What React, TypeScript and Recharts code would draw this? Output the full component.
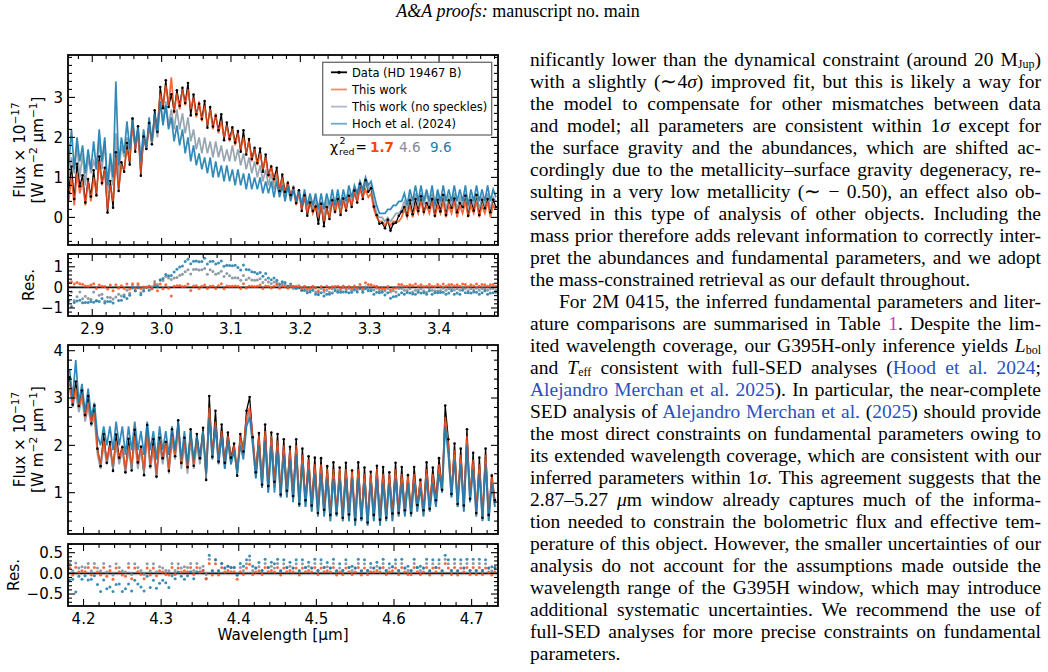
import React from 'react';
import { ComposedChart, Line, Scatter, XAxis, YAxis, ReferenceLine, ReferenceArea } from 'recharts';

// ---------- upper spectrum (2.87–3.48 µm) ----------
const TOP_START = 2.866;
const TOP_STEP = 0.004;
const TOP_DATA = [
  0.63,1.27,0.46,1.34,0.78,1.05,0.37,0.96,0.52,1.18,
  0.55,1.52,0.86,1.24,0.12,0.91,0.24,1.63,0.66,1.38,
  1.14,1.86,1.32,2.47,1.64,2.28,1.04,2.02,1.71,2.36,
  1.83,2.68,2.14,3.26,2.73,3.43,2.76,3.08,2.65,3.18,
  2.79,3.24,2.86,3.36,2.55,3.07,2.58,2.84,2.46,2.91,
  2.24,2.76,2.27,2.54,2.18,2.58,1.93,2.37,1.96,2.25,
  1.87,2.16,1.64,2.18,1.57,1.96,1.46,1.74,1.36,1.72,
  1.14,1.57,1.06,1.27,0.96,1.24,0.66,1.07,0.64,0.86,
  0.56,0.74,0.36,0.68,0.16,0.55,0.04,0.37,0.16,0.27,
  -0.16,0.34,-0.22,0.26,-0.04,0.43,0.14,0.46,0.06,0.47,
  0.17,0.54,0.26,0.67,0.37,0.84,0.46,0.93,0.64,0.73,
  0.27,0.06,-0.16,-0.14,-0.27,-0.06,-0.33,-0.16,-0.13,0.04,
  0.14,0.26,0.05,0.43,0.08,0.46,0.16,0.53,0.14,0.36,
  0.24,0.46,0.04,0.44,0.15,0.56,0.06,0.43,0.24,0.47,
  0.13,0.36,0.26,0.54,0.04,0.43,0.17,0.56,0.06,0.44,
  0.23,0.46,0.13,0.44,0.26,
];
const TOP_THIS = [
  0.4,1.0,0.3,1.1,0.6,0.9,0.3,0.9,0.4,1.0,
  0.6,1.4,0.8,1.2,0.2,0.8,0.4,1.5,0.7,1.3,
  1.2,1.7,1.4,2.3,1.7,2.1,1.1,2.0,1.7,2.3,
  1.9,2.5,2.3,3.1,2.8,3.3,2.8,3.5,2.6,3.1,
  2.7,3.2,2.8,3.2,2.7,3.0,2.5,2.9,2.4,2.8,
  2.3,2.7,2.2,2.6,2.1,2.4,2.0,2.3,1.9,2.2,
  1.8,2.1,1.7,2.0,1.6,1.9,1.4,1.7,1.3,1.6,
  1.2,1.5,1.0,1.3,0.9,1.1,0.7,1.0,0.6,0.9,
  0.5,0.7,0.3,0.6,0.2,0.5,0.1,0.4,0.1,0.3,
  0.0,0.3,-0.1,0.2,0.0,0.4,0.1,0.4,0.1,0.4,
  0.2,0.5,0.3,0.6,0.4,0.7,0.5,0.7,0.5,0.6,
  0.2,0.0,-0.1,-0.1,-0.2,-0.1,-0.2,-0.1,-0.1,-0.1,
  0.0,0.2,0.0,0.3,0.0,0.3,0.1,0.4,0.1,0.3,
  0.1,0.4,0.0,0.3,0.1,0.4,0.0,0.3,0.1,0.4,
  0.0,0.3,0.1,0.4,0.0,0.3,0.1,0.4,0.0,0.3,
  0.1,0.4,0.0,0.3,0.2,
];
const TOP_NOSPK = [
  1.0,1.5,1.1,1.8,1.0,1.6,0.8,1.5,1.1,1.4,
  1.2,1.9,1.2,1.9,0.6,1.4,0.8,2.1,1.0,1.8,
  1.5,2.0,1.6,2.4,1.8,2.2,1.3,2.1,1.7,2.3,
  1.8,2.4,2.0,2.9,2.4,2.9,2.3,2.7,2.2,2.7,
  2.2,2.6,2.1,2.5,1.9,2.2,1.7,2.0,1.6,2.0,
  1.6,1.9,1.5,1.9,1.5,1.8,1.4,1.7,1.4,1.8,
  1.4,1.7,1.3,1.6,1.2,1.5,1.1,1.4,1.0,1.3,
  0.9,1.2,0.8,1.1,0.7,1.0,0.6,0.9,0.5,0.8,
  0.5,0.8,0.4,0.7,0.3,0.6,0.2,0.5,0.2,0.5,
  0.1,0.4,0.0,0.4,0.2,0.5,0.2,0.6,0.2,0.5,
  0.3,0.6,0.4,0.7,0.5,0.9,0.6,0.9,0.7,0.8,
  0.4,0.1,0.0,0.0,-0.1,0.0,-0.1,0.0,0.1,0.1,
  0.2,0.4,0.2,0.5,0.3,0.6,0.3,0.6,0.3,0.6,
  0.3,0.6,0.2,0.6,0.3,0.6,0.2,0.5,0.3,0.6,
  0.2,0.5,0.3,0.6,0.2,0.5,0.3,0.6,0.2,0.5,
  0.3,0.6,0.2,0.5,0.4,
];
const TOP_HOCH = [
  1.3,2.2,1.2,2.0,1.4,1.8,1.1,1.7,1.2,1.9,
  1.2,2.2,1.4,2.0,0.8,1.6,1.0,3.4,1.3,2.0,
  1.6,2.4,1.7,2.5,1.8,2.3,1.4,2.2,1.7,2.5,
  1.9,2.6,2.1,2.9,2.3,2.8,2.2,2.5,1.9,2.3,
  1.8,2.2,1.6,2.0,1.4,1.8,1.3,1.6,1.2,1.5,
  1.1,1.5,1.0,1.4,1.0,1.3,0.9,1.3,0.9,1.2,
  0.8,1.2,0.8,1.1,0.7,1.1,0.7,1.0,0.7,1.0,
  0.6,0.9,0.6,0.9,0.5,0.9,0.5,0.8,0.4,0.8,
  0.4,0.7,0.4,0.7,0.3,0.7,0.3,0.6,0.3,0.6,
  0.2,0.6,0.2,0.6,0.3,0.7,0.3,0.7,0.3,0.7,
  0.4,0.8,0.5,0.8,0.6,0.9,0.7,1.0,0.8,0.9,
  0.6,0.3,0.1,0.1,0.1,0.2,0.2,0.3,0.3,0.4,
  0.4,0.6,0.3,0.7,0.4,0.8,0.4,0.8,0.4,0.7,
  0.4,0.8,0.3,0.7,0.4,0.8,0.4,0.7,0.4,0.8,
  0.4,0.7,0.4,0.8,0.3,0.7,0.4,0.8,0.4,0.7,
  0.4,0.8,0.4,0.7,0.5,
];

// ---------- lower spectrum (4.18–4.73 µm) ----------
const BOT_START = 4.182;
const BOT_STEP = 0.004;
const BOT_DATA = [
  3.44,2.86,3.35,2.83,3.16,2.64,3.04,2.46,2.84,1.93,
  1.56,2.24,1.63,2.07,1.46,2.23,1.74,1.96,1.43,2.14,
  1.47,2.33,1.64,1.97,1.37,2.43,1.56,2.13,1.34,2.16,
  1.73,2.07,1.46,2.34,1.77,2.53,1.63,2.16,1.54,2.34,
  1.57,2.24,1.73,2.37,1.27,3.04,1.76,2.73,1.66,2.44,
  1.63,2.27,1.74,2.04,1.36,2.24,1.87,2.73,3.02,2.17,
  1.43,2.26,1.17,2.44,1.14,2.27,1.23,2.24,0.96,2.13,
  1.04,1.97,0.93,2.13,0.76,1.93,0.84,1.77,0.73,1.74,
  0.57,1.73,0.64,1.56,0.53,1.64,0.56,1.53,0.47,1.63,
  0.54,1.47,0.43,1.64,0.46,1.53,0.37,1.44,0.53,1.57,
  0.43,1.54,0.47,1.43,0.56,1.63,0.57,1.54,0.63,1.37,
  0.57,1.54,0.74,1.27,0.63,1.64,0.66,1.53,0.84,1.73,
  1.06,2.84,2.13,0.97,2.04,0.76,1.93,0.73,2.34,0.87,
  1.84,0.57,1.74,0.47,1.93,0.53,1.36,0.84,
];
const BOT_THIS = [
  3.3,2.9,3.2,2.8,3.1,2.6,2.9,2.5,2.7,1.9,
  1.6,2.1,1.7,2.0,1.6,2.1,1.7,2.0,1.5,2.0,
  1.6,2.2,1.6,2.0,1.5,2.3,1.6,2.0,1.4,2.1,
  1.7,2.1,1.5,2.2,1.8,2.4,1.6,2.1,1.5,2.2,
  1.6,2.1,1.7,2.3,1.4,2.8,1.8,2.5,1.7,2.3,
  1.6,2.2,1.7,2.0,1.5,2.2,1.9,2.6,2.8,2.2,
  1.4,2.2,1.2,2.3,1.1,2.2,1.2,2.1,1.0,2.0,
  1.0,1.9,0.9,2.0,0.8,1.8,0.8,1.7,0.7,1.6,
  0.6,1.6,0.6,1.5,0.5,1.5,0.6,1.5,0.5,1.5,
  0.5,1.5,0.4,1.5,0.5,1.4,0.4,1.4,0.5,1.5,
  0.4,1.4,0.5,1.4,0.5,1.5,0.6,1.4,0.6,1.4,
  0.6,1.4,0.7,1.3,0.6,1.5,0.7,1.4,0.8,1.6,
  1.1,2.6,2.0,1.0,1.9,0.8,1.8,0.7,2.2,0.9,
  1.7,0.6,1.6,0.5,1.8,0.5,1.4,0.8,
];
const BOT_NOSPK = [
  3.2,2.8,3.1,2.7,3.0,2.5,2.8,2.4,2.6,1.8,
  1.5,2.0,1.6,1.9,1.5,2.0,1.6,1.9,1.4,1.9,
  1.5,2.1,1.5,1.9,1.4,2.2,1.5,1.9,1.3,2.0,
  1.6,2.0,1.4,2.1,1.7,2.3,1.5,2.0,1.4,2.1,
  1.5,2.0,1.6,2.2,1.3,2.7,1.7,2.4,1.6,2.2,
  1.5,2.1,1.6,1.9,1.4,2.1,1.8,2.5,2.7,2.1,
  1.3,2.1,1.1,2.2,1.0,2.1,1.1,2.0,0.9,1.9,
  0.9,1.8,0.8,1.9,0.7,1.7,0.7,1.6,0.6,1.5,
  0.5,1.5,0.5,1.4,0.4,1.4,0.5,1.4,0.4,1.4,
  0.4,1.4,0.3,1.4,0.4,1.3,0.3,1.3,0.4,1.4,
  0.3,1.3,0.4,1.3,0.4,1.4,0.5,1.3,0.5,1.3,
  0.5,1.3,0.6,1.2,0.5,1.4,0.6,1.3,0.7,1.5,
  1.0,2.5,1.9,0.9,1.8,0.7,1.7,0.6,2.1,0.8,
  1.6,0.5,1.5,0.4,1.7,0.4,1.3,0.7,
];
const BOT_HOCH = [
  3.6,3.0,3.8,2.9,3.3,2.7,3.2,2.6,2.9,2.2,
  2.0,2.4,2.0,2.4,1.9,2.5,2.0,2.4,1.8,2.4,
  1.9,2.5,1.9,2.3,1.8,2.5,1.9,2.3,1.7,2.4,
  1.9,2.3,1.8,2.4,1.9,2.5,1.7,2.3,1.6,2.3,
  1.7,2.2,1.7,2.3,1.4,2.6,1.7,2.4,1.6,2.2,
  1.5,2.1,1.6,1.9,1.4,2.0,1.7,2.4,2.6,2.0,
  1.3,2.0,1.1,2.1,1.0,2.0,1.0,1.9,0.9,1.8,
  0.9,1.7,0.8,1.8,0.7,1.6,0.7,1.5,0.6,1.4,
  0.5,1.4,0.5,1.3,0.4,1.3,0.5,1.3,0.4,1.3,
  0.4,1.3,0.3,1.3,0.4,1.2,0.3,1.2,0.4,1.3,
  0.3,1.2,0.4,1.2,0.4,1.3,0.5,1.2,0.5,1.2,
  0.5,1.2,0.6,1.1,0.5,1.3,0.6,1.2,0.7,1.4,
  1.0,2.4,1.8,0.9,1.7,0.7,1.6,0.6,2.0,0.8,
  1.5,0.5,1.4,0.4,1.6,0.4,1.2,0.7,
];

// ---------- ticks ----------
const TOP_X_MAJOR = [2.9, 3.0, 3.1, 3.2, 3.3, 3.4];
const TOP_X_LABELS = ['2.9', '3.0', '3.1', '3.2', '3.3', '3.4'];
const BOT_X_MAJOR = [4.2, 4.3, 4.4, 4.5, 4.6, 4.7];
const BOT_X_LABELS = ['4.2', '4.3', '4.4', '4.5', '4.6', '4.7'];
const FLUX1_Y_MAJOR = [0, 1, 2, 3];
const FLUX1_Y_LABELS = ['0', '1', '2', '3'];
const RES1_Y_MAJOR = [-1, 0, 1];
const RES1_Y_LABELS = ['\u22121', '0', '1'];
const FLUX2_Y_MAJOR = [1, 2, 3, 4];
const FLUX2_Y_LABELS = ['1', '2', '3', '4'];
const RES2_Y_MAJOR = [-0.5, 0, 0.5];
const RES2_Y_LABELS = ['\u22120.5', '0.0', '0.5'];

const LEGEND_LABELS = ['Data (HD 19467 B)', 'This work', 'This work (no speckles)', 'Hoch et al. (2024)'];
const CHI_VALUES = ['1.7', '4.6', '9.6'];

// ---------- colours ----------
const C_DATA = '#000000';
const C_THIS = '#f24e1c';
const C_NOSPK = '#8695a4';
const C_HOCH = '#1c7db0';

const steps = (a: number, b: number, s: number) => {
  const out: number[] = [];
  const n = Math.round((b - a) / s);
  for (let i = 0; i <= n; i++) out.push(Math.round((a + i * s) * 1000) / 1000);
  return out;
};

const topWave = (i: number) => Math.round((TOP_START + i * TOP_STEP) * 10000) / 10000;
const botWave = (i: number) => Math.round((BOT_START + i * BOT_STEP) * 10000) / 10000;

const TOP_ROWS = TOP_DATA.map((d, i) => ({ w: topWave(i), d, o: TOP_THIS[i], g: TOP_NOSPK[i], b: TOP_HOCH[i] }));
const BOT_ROWS = BOT_DATA.map((d, i) => ({ w: botWave(i), d, o: BOT_THIS[i], g: BOT_NOSPK[i], b: BOT_HOCH[i] }));

const resid = (data: number[], model: number[], wave: (i: number) => number) =>
  data.map((d, i) => ({ w: wave(i), r: Math.round((d - model[i]) * 1000) / 1000 }));

const TOP_RES_O = resid(TOP_DATA, TOP_THIS, topWave);
const TOP_RES_G = resid(TOP_DATA, TOP_NOSPK, topWave);
const TOP_RES_B = resid(TOP_DATA, TOP_HOCH, topWave);
const BOT_RES_O = resid(BOT_DATA, BOT_THIS, botWave);
const BOT_RES_G = resid(BOT_DATA, BOT_NOSPK, botWave);
const BOT_RES_B = resid(BOT_DATA, BOT_HOCH, botWave);

// ---------- layout ----------
const PLOT_LEFT = 68;
const PLOT_W = 430;
const CHART_W = 510;
const MAJOR_LEN = 7;
const MINOR_LEN = 4;
const TICK_FS = 15;
const LABEL_FS = 15.2;
const SANS = 'DejaVu Sans';
const SERIF = '"Liberation Serif", "Times New Roman", serif';

const isMajorIdx = (majors: number[], v: number) => majors.findIndex((m) => Math.abs(m - v) < 1e-6);

const makeXTick = (majors: number[], labels: string[], plotH: number, show: boolean) => (props: any) => {
  const { x, y, payload } = props;
  const k = isMajorIdx(majors, payload.value);
  const len = k >= 0 ? MAJOR_LEN : MINOR_LEN;
  return (
    <g>
      <line x1={x} x2={x} y1={y} y2={y - len} stroke="#000" strokeWidth={1.1} />
      <line x1={x} x2={x} y1={y - plotH} y2={y - plotH + len} stroke="#000" strokeWidth={1.1} />
      {show && k >= 0 && (
        <text x={x} y={y + 17.5} textAnchor="middle" fontSize={TICK_FS} fontFamily={SANS} fill="#000">
          {labels[k]}
        </text>
      )}
    </g>
  );
};

const makeYTick = (majors: number[], labels: string[]) => (props: any) => {
  const { x, y, payload } = props;
  const k = isMajorIdx(majors, payload.value);
  const len = k >= 0 ? MAJOR_LEN : MINOR_LEN;
  return (
    <g>
      <line x1={x} x2={x + len} y1={y} y2={y} stroke="#000" strokeWidth={1.1} />
      <line x1={x + PLOT_W} x2={x + PLOT_W - len} y1={y} y2={y} stroke="#000" strokeWidth={1.1} />
      {k >= 0 && (
        <text x={x - 5} y={y + 5.4} textAnchor="end" fontSize={TICK_FS} fontFamily={SANS} fill="#000">
          {labels[k]}
        </text>
      )}
    </g>
  );
};

type AxisCfg = {
  xDomain: [number, number];
  xTicks: number[];
  xMajors: number[];
  xLabels: string[];
  yDomain: [number, number];
  yTicks: number[];
  yMajors: number[];
  yLabels: string[];
  showX: boolean;
};

function axes(plotH: number, c: AxisCfg) {
  return [
    <XAxis
      key="x"
      dataKey="w"
      type="number"
      domain={c.xDomain}
      allowDataOverflow
      ticks={c.xTicks}
      interval={0}
      tickSize={0}
      tickMargin={0}
      axisLine={false}
      tickLine={false}
      height={30}
      tick={makeXTick(c.xMajors, c.xLabels, plotH, c.showX)}
    />,
    <YAxis
      key="y"
      type="number"
      domain={c.yDomain}
      allowDataOverflow
      ticks={c.yTicks}
      interval={0}
      tickSize={0}
      tickMargin={0}
      axisLine={false}
      tickLine={false}
      width={60}
      tick={makeYTick(c.yMajors, c.yLabels)}
    />,
  ];
}

function FluxPanel({ top, plotH, rows, cfg }: { top: number; plotH: number; rows: any[]; cfg: AxisCfg }) {
  return (
    <div style={{ position: 'absolute', left: 0, top: top - 10 }}>
      <ComposedChart width={CHART_W} height={plotH + 40} data={rows} margin={{ top: 10, right: 12, bottom: 0, left: 8 }}>
        {axes(plotH, cfg)}
        <Line type="linear" dataKey="d" stroke={C_DATA} strokeWidth={1.3} dot={{ r: 1.3, fill: C_DATA, stroke: 'none' }} isAnimationActive={false} />
        <Line type="linear" dataKey="g" stroke={C_NOSPK} strokeOpacity={0.85} strokeWidth={1.7} dot={false} isAnimationActive={false} />
        <Line type="linear" dataKey="o" stroke={C_THIS} strokeOpacity={0.85} strokeWidth={1.7} dot={false} isAnimationActive={false} />
        <Line type="linear" dataKey="b" stroke={C_HOCH} strokeOpacity={0.9} strokeWidth={1.7} dot={false} isAnimationActive={false} />
      </ComposedChart>
    </div>
  );
}

const dotShape = (color: string) => (p: any) => <circle cx={p.cx} cy={p.cy} r={1.5} fill={color} fillOpacity={0.85} />;

function ResPanel({ top, plotH, ro, rg, rb, cfg }: { top: number; plotH: number; ro: any[]; rg: any[]; rb: any[]; cfg: AxisCfg }) {
  return (
    <div style={{ position: 'absolute', left: 0, top: top - 10 }}>
      <ComposedChart width={CHART_W} height={plotH + 40} margin={{ top: 10, right: 12, bottom: 0, left: 8 }}>
        {axes(plotH, cfg)}
        <ReferenceArea y1={-0.06} y2={0.06} fill="#e9e9e9" fillOpacity={1} stroke="none" />
        <Scatter data={rg} dataKey="r" fill="#7b8996" shape={dotShape('#7b8996')} isAnimationActive={false} />
        <Scatter data={rb} dataKey="r" fill="#1a7aa8" shape={dotShape('#1a7aa8')} isAnimationActive={false} />
        <Scatter data={ro} dataKey="r" fill="#ff4f1a" shape={dotShape('#ff4f1a')} isAnimationActive={false} />
        <ReferenceLine y={0} stroke="#1a1a1a" strokeWidth={1.6} />
      </ComposedChart>
    </div>
  );
}

const TOP_X_TICKS = steps(2.88, 3.48, 0.02);
const BOT_X_TICKS = steps(4.2, 4.72, 0.02);

const CFG_P1: AxisCfg = {
  xDomain: [2.865, 3.485], xTicks: TOP_X_TICKS, xMajors: TOP_X_MAJOR, xLabels: TOP_X_LABELS,
  yDomain: [-0.69, 4.06], yTicks: steps(-0.6, 4.0, 0.2), yMajors: FLUX1_Y_MAJOR, yLabels: FLUX1_Y_LABELS, showX: false,
};
const CFG_P2: AxisCfg = {
  xDomain: [2.865, 3.485], xTicks: TOP_X_TICKS, xMajors: TOP_X_MAJOR, xLabels: TOP_X_LABELS,
  yDomain: [-1.39, 1.62], yTicks: steps(-1.2, 1.6, 0.2), yMajors: RES1_Y_MAJOR, yLabels: RES1_Y_LABELS, showX: true,
};
const CFG_P3: AxisCfg = {
  xDomain: [4.18, 4.734], xTicks: BOT_X_TICKS, xMajors: BOT_X_MAJOR, xLabels: BOT_X_LABELS,
  yDomain: [0.127, 4.12], yTicks: steps(0.2, 4.0, 0.2), yMajors: FLUX2_Y_MAJOR, yLabels: FLUX2_Y_LABELS, showX: false,
};
const CFG_P4: AxisCfg = {
  xDomain: [4.18, 4.734], xTicks: BOT_X_TICKS, xMajors: BOT_X_MAJOR, xLabels: BOT_X_LABELS,
  yDomain: [-0.79, 0.71], yTicks: steps(-0.7, 0.7, 0.1), yMajors: RES2_Y_MAJOR, yLabels: RES2_Y_LABELS, showX: true,
};

const PANELS = [
  { top: 55, h: 190 },
  { top: 254, h: 62 },
  { top: 345, h: 189 },
  { top: 544, h: 62 },
];

function FluxLabel({ cy }: { cy: number }) {
  return (
    <g fontFamily={SANS} fontSize={LABEL_FS} fill="#000">
      <text transform={`translate(25,${cy}) rotate(-90)`} textAnchor="middle">
        Flux × 10<tspan dy={-6} fontSize={10.6}>−17</tspan>
      </text>
      <text transform={`translate(42.5,${cy}) rotate(-90)`} textAnchor="middle">
        [W m<tspan dy={-6} fontSize={10.6}>−2</tspan>
        <tspan dy={6}> μm</tspan>
        <tspan dy={-6} fontSize={10.6}>−1</tspan>
        <tspan dy={6}>]</tspan>
      </text>
    </g>
  );
}

function Overlay() {
  const legendRows = [72.3, 89.5, 106.6, 123.7];
  const legendColors = [C_DATA, C_THIS, C_NOSPK, C_HOCH];
  return (
    <svg width={1048} height={672} style={{ position: 'absolute', left: 0, top: 0, pointerEvents: 'none' }}>
      {PANELS.map((p, i) => (
        <rect key={i} x={PLOT_LEFT} y={p.top} width={PLOT_W} height={p.h} fill="none" stroke="#000" strokeWidth={1.8} />
      ))}
      <FluxLabel cy={150} />
      <FluxLabel cy={439.5} />
      <text transform="translate(33.5,285) rotate(-90)" textAnchor="middle" fontFamily={SANS} fontSize={LABEL_FS}>Res.</text>
      <text transform="translate(18.5,575) rotate(-90)" textAnchor="middle" fontFamily={SANS} fontSize={LABEL_FS}>Res.</text>
      <text x={283} y={640} textAnchor="middle" fontFamily={SANS} fontSize={LABEL_FS}>Wavelength [μm]</text>

      {/* legend */}
      <rect x={322.7} y={62.3} width={169} height={72.7} fill="#fff" fillOpacity={0.85} stroke="#6a6a6a" strokeWidth={1.3} />
      {legendRows.map((cy, i) => (
        <g key={i}>
          <line x1={331} x2={347} y1={cy} y2={cy} stroke={legendColors[i]} strokeOpacity={i === 0 ? 1 : 0.65} strokeWidth={1.8} />
          {i === 0 && <circle cx={339} cy={cy} r={1.6} fill="#000" />}
          <text x={352} y={cy + 4.2} fontFamily={SANS} fontSize={11.5} fill="#000">{LEGEND_LABELS[i]}</text>
        </g>
      ))}

      {/* reduced chi-square */}
      <g fontFamily={SANS}>
        <text x={330} y={151.5} fontSize={14}>χ</text>
        <text x={339.5} y={144} fontSize={9.5}>2</text>
        <text x={339} y={155} fontSize={9.5}>red</text>
        <text x={355.5} y={151.5} fontSize={13.5}>=</text>
        <text x={370} y={151.5} fontSize={13.5} fontWeight="bold" fill="#ff4500">{CHI_VALUES[0]}</text>
        <text x={399} y={151.5} fontSize={13.5} fill="#7d8c9c">{CHI_VALUES[1]}</text>
        <text x={430} y={151.5} fontSize={13.5} fill={C_HOCH}>{CHI_VALUES[2]}</text>
      </g>
    </svg>
  );
}

const LINK = '#2a4fc2';
const Sub = ({ children }: { children: React.ReactNode }) => (
  <span style={{ fontSize: 12, position: 'relative', top: 2 }}>{children}</span>
);
const I = ({ children }: { children: React.ReactNode }) => <i>{children}</i>;
const A = ({ children }: { children: React.ReactNode }) => <span style={{ color: LINK }}>{children}</span>;

const TEXT_LINES: { n: React.ReactNode; j: boolean; ind?: number }[] = [
  { n: <>nificantly lower than the dynamical constraint (around 20 M<Sub>Jup</Sub>)</>, j: true },
  { n: <>with a slightly (∼4<I>σ</I>) improved fit, but this is likely a way for</>, j: true },
  { n: <>the model to compensate for other mismatches between data</>, j: true },
  { n: <>and model; all parameters are consistent within 1<I>σ</I> except for</>, j: true },
  { n: <>the surface gravity and the abundances, which are shifted ac-</>, j: true },
  { n: <>cordingly due to the metallicity–surface gravity degeneracy, re-</>, j: true },
  { n: <>sulting in a very low metallicity (∼ − 0.50), an effect also ob-</>, j: true },
  { n: <>served in this type of analysis of other objects. Including the</>, j: true },
  { n: <>mass prior therefore adds relevant information to correctly inter-</>, j: true },
  { n: <>pret the abundances and fundamental parameters, and we adopt</>, j: true },
  { n: <>the mass-constrained retrieval as our default throughout.</>, j: false },
  { n: <>For 2M 0415, the inferred fundamental parameters and liter-</>, j: true, ind: 29 },
  { n: <>ature comparisons are summarised in Table <span style={{ color: '#c03ccc' }}>1</span>. Despite the lim-</>, j: true },
  { n: <>ited wavelength coverage, our G395H-only inference yields <I>L</I><Sub>bol</Sub></>, j: true },
  { n: <>and <I>T</I><Sub>eff</Sub> consistent with full-SED analyses (<A>Hood et al. 2024</A>;</>, j: true },
  { n: <><A>Alejandro Merchan et al. 2025</A>). In particular, the near-complete</>, j: true },
  { n: <>SED analysis of <A>Alejandro Merchan et al.</A> (<A>2025</A>) should provide</>, j: true },
  { n: <>the most direct constraints on fundamental parameters owing to</>, j: true },
  { n: <>its extended wavelength coverage, which are consistent with our</>, j: true },
  { n: <>inferred parameters within 1<I>σ</I>. This agreement suggests that the</>, j: true },
  { n: <>2.87–5.27 <I>μ</I>m window already captures much of the informa-</>, j: true },
  { n: <>tion needed to constrain the bolometric flux and effective tem-</>, j: true },
  { n: <>perature of this object. However, the smaller uncertainties of our</>, j: true },
  { n: <>analysis do not account for the assumptions made outside the</>, j: true },
  { n: <>wavelength range of the G395H window, which may introduce</>, j: true },
  { n: <>additional systematic uncertainties. We recommend the use of</>, j: true },
  { n: <>full-SED analyses for more precise constraints on fundamental</>, j: true },
  { n: <>parameters.</>, j: false },
];

export default function App() {
  return (
    <div style={{ position: 'absolute', left: 0, top: 0, width: 1048, height: 672, background: '#fff', overflow: 'hidden' }}>
      <div style={{ position: 'absolute', left: 0, top: 0, width: 1036, textAlign: 'center', fontFamily: SERIF, fontSize: 18, lineHeight: '22px', color: '#000' }}>
        <i>A&amp;A proofs:</i> manuscript no. main
      </div>

      <FluxPanel top={PANELS[0].top} plotH={PANELS[0].h} rows={TOP_ROWS} cfg={CFG_P1} />
      <ResPanel top={PANELS[1].top} plotH={PANELS[1].h} ro={TOP_RES_O} rg={TOP_RES_G} rb={TOP_RES_B} cfg={CFG_P2} />
      <FluxPanel top={PANELS[2].top} plotH={PANELS[2].h} rows={BOT_ROWS} cfg={CFG_P3} />
      <ResPanel top={PANELS[3].top} plotH={PANELS[3].h} ro={BOT_RES_O} rg={BOT_RES_G} rb={BOT_RES_B} cfg={CFG_P4} />
      <Overlay />

      {TEXT_LINES.map((l, k) => {
        const ind = l.ind || 0;
        return (
          <div
            key={k}
            style={{
              position: 'absolute',
              left: 530 + ind,
              top: 48.5 + 22 * k,
              width: 511 - ind,
              fontFamily: SERIF,
              fontSize: 19.5,
              lineHeight: '22px',
              color: '#000',
              textAlign: l.j ? 'justify' : 'left',
              textAlignLast: l.j ? 'justify' : 'auto',
              wordSpacing: l.j ? '-3px' : '0px',
            } as React.CSSProperties}
          >
            {l.n}
          </div>
        );
      })}
    </div>
  );
}
